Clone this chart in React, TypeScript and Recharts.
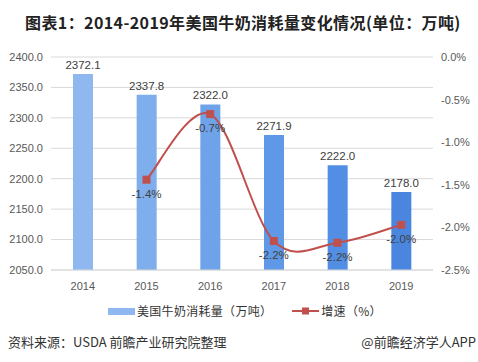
import { ComposedChart, Bar, Line, XAxis, YAxis, CartesianGrid, LabelList, Cell } from "recharts"

const years = ["2014", "2015", "2016", "2017", "2018", "2019"]
const consumption = [2372.1, 2337.8, 2322.0, 2271.9, 2222.0, 2178.0]
const growth = [null, -1.44, -0.67, -2.16, -2.18, -1.97]
const leftTicks = [2050, 2100, 2150, 2200, 2250, 2300, 2350, 2400]
const rightTicks = [-2.5, -2, -1.5, -1, -0.5, 0]
const barColors = ["#8eb8ef", "#7eaeec", "#6ea3e9", "#5f98e6", "#528ee3", "#4a86e0"]

const data = years.map((year, i) => ({ year, consumption: consumption[i], growth: growth[i] }))

const numFont = "'Liberation Sans', Arial, sans-serif"
const cjkFont = "'Noto Sans CJK SC', sans-serif"

// Excel-style smoothed line (Catmull-Rom through the points)
function excelCurve(context: any) {
  let pts: number[][] = []
  return {
    areaStart() {},
    areaEnd() {},
    lineStart() {
      pts = []
    },
    point(x: number, y: number) {
      pts.push([+x, +y])
    },
    lineEnd() {
      const n = pts.length
      if (!n) return
      context.moveTo(pts[0][0], pts[0][1])
      for (let i = 0; i < n - 1; i++) {
        const p0 = pts[Math.max(i - 1, 0)]
        const p1 = pts[i]
        const p2 = pts[i + 1]
        const p3 = pts[Math.min(i + 2, n - 1)]
        context.bezierCurveTo(
          p1[0] + (p2[0] - p0[0]) / 6,
          p1[1] + (p2[1] - p0[1]) / 6,
          p2[0] - (p3[0] - p1[0]) / 6,
          p2[1] - (p3[1] - p1[1]) / 6,
          p2[0],
          p2[1]
        )
      }
    },
  }
}

function SquareDot(props: any) {
  const { cx, cy } = props
  if (cx == null || cy == null) return null
  return <rect x={cx - 4} y={cy - 4} width={8} height={8} fill="#c0504d" />
}

export default function App() {
  return (
    <div style={{ position: "relative", width: 478, height: 362, background: "#fff", fontFamily: cjkFont }}>
      <style>{"body{margin:0}"}</style>
      <div
        style={{
          position: "absolute",
          left: 25,
          top: 10,
          fontSize: 16,
          fontWeight: 700,
          letterSpacing: 0.4,
          color: "#222",
          lineHeight: "24px",
          whiteSpace: "nowrap",
        }}
      >
        图表1：2014-2019年美国牛奶消耗量变化情况(单位：万吨)
      </div>
      <div style={{ position: "absolute", left: 0, top: 0 }}>
        <ComposedChart width={478} height={300} data={data} margin={{ top: 57, right: 5, bottom: 0, left: 6 }}>
          <CartesianGrid yAxisId="left" vertical={false} stroke="#d9d9d9" />
          <XAxis
            dataKey="year"
            tickLine={false}
            axisLine={{ stroke: "#d9d9d9" }}
            tickMargin={6}
            height={30}
            tick={{ fill: "#595959", fontSize: 11, fontFamily: numFont }}
          />
          <YAxis
            yAxisId="left"
            domain={[2050, 2400]}
            ticks={leftTicks}
            width={45}
            axisLine={false}
            tickLine={false}
            tickFormatter={(v: number) => v.toFixed(1)}
            tick={{ fill: "#595959", fontSize: 11, fontFamily: numFont }}
          />
          <YAxis
            yAxisId="right"
            orientation="right"
            domain={[-2.5, 0]}
            ticks={rightTicks}
            width={40}
            axisLine={false}
            tickLine={false}
            tickFormatter={(v: number) => v.toFixed(1) + "%"}
            tick={{ fill: "#595959", fontSize: 11, fontFamily: numFont }}
          />
          <Bar yAxisId="left" dataKey="consumption" barSize={20} isAnimationActive={false}>
            {data.map((d, i) => (
              <Cell key={d.year} fill={barColors[i]} />
            ))}
            <LabelList
              dataKey="consumption"
              position="top"
              formatter={(v: any) => Number(v).toFixed(1)}
              style={{ fill: "#404040", fontSize: 11.5, fontFamily: numFont }}
            />
          </Bar>
          <Line
            yAxisId="right"
            type={excelCurve as any}
            dataKey="growth"
            stroke="#c0504d"
            strokeWidth={2}
            dot={<SquareDot />}
            activeDot={false}
            isAnimationActive={false}
          >
            <LabelList
              dataKey="growth"
              position="bottom"
              offset={10}
              formatter={(v: any) => (v == null ? "" : Number(v).toFixed(1) + "%")}
              style={{ fill: "#404040", fontSize: 11.5, fontFamily: numFont }}
            />
          </Line>
        </ComposedChart>
      </div>
      <div
        style={{
          position: "absolute",
          left: 108,
          top: 302,
          display: "flex",
          alignItems: "center",
          fontSize: 12,
          letterSpacing: 0.3,
          color: "#333",
          lineHeight: "18px",
          whiteSpace: "nowrap",
        }}
      >
        <span style={{ display: "inline-block", width: 27, height: 7, background: "#8eb8ef", marginRight: 2 }} />
        <span>美国牛奶消耗量（万吨）</span>
        <svg width={27} height={10} style={{ marginLeft: 20, marginRight: 2 }}>
          <line x1={0} y1={5} x2={27} y2={5} stroke="#c0504d" strokeWidth={2} />
          <rect x={10} y={1.5} width={7} height={7} fill="#c0504d" />
        </svg>
        <span>增速（%）</span>
      </div>
      <div style={{ position: "absolute", left: 8, top: 333, fontSize: 13, color: "#333", lineHeight: "18px", whiteSpace: "nowrap" }}>
        资料来源：USDA 前瞻产业研究院整理
      </div>
      <div style={{ position: "absolute", right: 2, top: 333, fontSize: 13, color: "#333", lineHeight: "18px", whiteSpace: "nowrap" }}>
        @前瞻经济学人APP
      </div>
    </div>
  )
}
